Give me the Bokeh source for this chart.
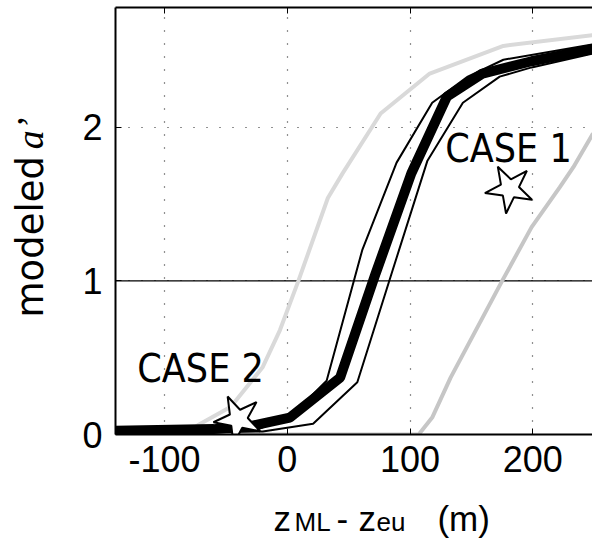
import math
from bokeh.plotting import figure
from bokeh.models import FixedTicker, LinearAxis, Span, Label, ColumnDataSource
from bokeh.core.properties import value
from bokeh.embed import file_html
from bokeh.resources import INLINE

# ---- data ----
light_x = [-140, -80, -73, -46, -20, -6, 9, 33, 45, 76, 116, 176, 249]
light_y = [0.0, 0.02, 0.06, 0.18, 0.44, 0.68, 1.0, 1.54, 1.70, 2.09, 2.35, 2.53, 2.60]
mid_x = [-140, 107, 118, 133, 175, 199, 222, 233, 249]
mid_y = [0.0, 0.0, 0.11, 0.37, 1.0, 1.35, 1.61, 1.74, 1.96]
thick_x = [-140, -60, -30, 2, 43, 72, 101, 130, 159, 199, 249]
thick_y = [0.025, 0.035, 0.055, 0.11, 0.37, 1.05, 1.70, 2.20, 2.35, 2.43, 2.51]
thinL_x = [-140, -25, 3, 32, 61, 89, 118, 147, 176, 249]
thinL_y = [0.01, 0.03, 0.12, 0.35, 1.2, 1.77, 2.16, 2.33, 2.44, 2.54]
thinR_x = [-140, -20, 21, 57, 85, 114, 143, 173, 199, 249]
thinR_y = [0.0, 0.02, 0.07, 0.34, 1.05, 1.78, 2.16, 2.33, 2.39, 2.48]
case_x = [181, -40]
case_y = [1.60, 0.10]
case_names = ["CASE 1", "CASE 2"]
x_ticks = [-100, 0, 100, 200]
x_tick_labels = ["-100", "0", "100", "200"]
y_ticks = [0, 1, 2]

X_RANGE = (-140, 248.6)
Y_RANGE = (0, 2.78)

p = figure(width=592, height=539, x_range=X_RANGE, y_range=Y_RANGE,
           output_backend="svg", toolbar_location=None,
           min_border_left=115, min_border_right=0, min_border_top=7,
           min_border_bottom=105, x_axis_location=None, y_axis_location=None)
p.outline_line_color = None
p.background_fill_color = "white"
p.border_fill_color = "white"

TICK_FONT = "Liberation Sans"

def style_axis(ax, ticks, labels=True):
    ax.ticker = FixedTicker(ticks=ticks)
    ax.axis_line_width = 2
    ax.axis_line_color = "black"
    ax.major_tick_in = 6
    ax.major_tick_out = 0
    ax.major_tick_line_width = 1
    ax.minor_tick_line_color = None
    ax.major_label_text_font = TICK_FONT
    ax.major_label_text_color = "black"
    if labels:
        ax.major_label_text_font_size = "36px"
    else:
        ax.major_label_overrides = {t: "" for t in ticks}
        ax.major_label_text_font_size = "0px"
        ax.major_label_standoff = 0

bottom = LinearAxis()
top = LinearAxis()
left = LinearAxis()
style_axis(bottom, x_ticks)
style_axis(top, x_ticks, labels=False)
style_axis(left, y_ticks)
bottom.major_label_overrides = {t: s for t, s in zip(x_ticks, x_tick_labels)}
bottom.major_label_standoff = 11
left.major_label_standoff = 13
p.add_layout(bottom, "below")
p.add_layout(top, "above")
p.add_layout(left, "left")

p.xgrid.ticker = FixedTicker(ticks=x_ticks)
p.ygrid.ticker = FixedTicker(ticks=y_ticks)
for g in (p.xgrid, p.ygrid):
    g.grid_line_color = "#222222"
    g.grid_line_dash = "1 12"
    g.grid_line_width = 1.2

p.add_layout(Span(location=1, dimension="width", line_color="black",
                  line_width=1.2, level="underlay"))

p.line(light_x, light_y, line_color="#d9d9d9", line_width=4)
p.line(mid_x, mid_y, line_color="#c6c6c6", line_width=4)
p.line(thinL_x, thinL_y, line_color="black", line_width=2)
p.line(thinR_x, thinR_y, line_color="black", line_width=2)
p.line(thick_x, thick_y, line_color="black", line_width=10)

src = ColumnDataSource(dict(x=case_x, y=case_y, angle=[math.pi - 0.14, math.pi - 0.19]))
p.scatter("x", "y", source=src, marker="star", size=50, angle="angle",
          fill_color="white", line_color="black", line_width=2)

CASE_FONT = "'DejaVu Sans Condensed', 'Liberation Sans'"
for txt, lx, ly in [(case_names[0], 128.7, 1.86), (case_names[1], -122.2, 0.43)]:
    p.add_layout(Label(x=lx, y=ly, text=txt, text_font=CASE_FONT,
                       text_font_size="39px", text_color="black",
                       text_baseline="alphabetic", text_align="left"))

# axis titles: text glyphs at overlay level (drawn outside the frame, no clipping)
def title_piece(txt, x, y, font, size, style="normal", angle=0.0):
    r = p.text(x=[x], y=[y], text=[txt], angle=angle, text_font=value(font),
               text_font_size=value(size), text_font_style=style, text_color="black",
               text_align="left", text_baseline="alphabetic")
    r.level = "overlay"
    return r

# y title: "modeled a'"
title_piece("modeled", -209.5, 0.762, "DejaVu Sans", "37px", angle=math.pi / 2)
title_piece("a\u2019", -209.5, 1.857, "Liberation Serif", "38px", style="italic",
            angle=math.pi / 2)

# x title: "zML- zeu (m)"  (big pieces and smaller pieces share one baseline)
XT_Y_BIG = -0.55
XT_Y_SMALL = -0.572
for txt, xx, fs, yy in [("z", -11.3, "35px", XT_Y_BIG), ("ML", 5.8, "26px", XT_Y_SMALL),
                        ("-", 40.0, "35px", XT_Y_BIG), ("z", 58.0, "35px", XT_Y_BIG),
                        ("eu", 72.6, "26px", XT_Y_SMALL), ("(m)", 122.3, "35px", XT_Y_BIG)]:
    title_piece(txt, xx, yy, "Liberation Sans", fs)

open("out.html", "w").write(file_html(p, INLINE))
